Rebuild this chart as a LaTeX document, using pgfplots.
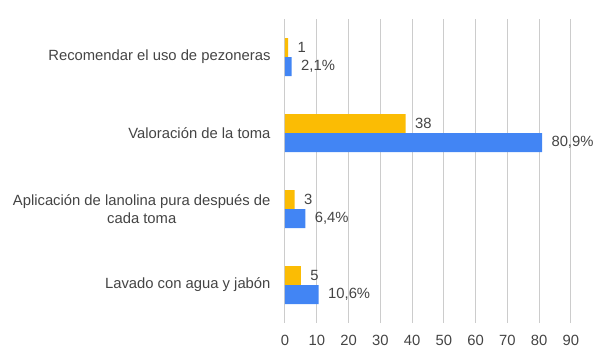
\documentclass[border=0pt]{standalone}
\usepackage{fontspec}
\setmainfont{Liberation Sans}
\usepackage{pgfplots}
\pgfplotsset{compat=1.18}
\definecolor{gyellow}{HTML}{FBBC04}
\definecolor{gblue}{HTML}{4285F4}
\definecolor{txt}{HTML}{444444}
\definecolor{grd}{HTML}{CCCCCC}
\begin{document}
\begin{tikzpicture}
\path[use as bounding box] (-285bp,-38bp) rectangle (315bp,323bp);
\begin{axis}[
  at={(0,0)}, anchor=south west,
  scale only axis, width=305bp, height=304bp,
  xbar, bar width=19bp,
  xmin=0, xmax=96, ymin=-0.5, ymax=3.5,
  y dir=reverse,
  axis line style={draw=none},
  xtick={0,10,...,90},
  ytick={0,1,2,3},
  yticklabels={Recomendar el uso de pezoneras, Valoración de la toma, {Aplicación de lanolina pura después de\\cada toma}, Lavado con agua y jabón},
  yticklabel style={align=center, font=\fontsize{14.8bp}{18bp}\selectfont, text=txt, xshift=-11bp},
  xticklabel style={font=\fontsize{14.8bp}{18bp}\selectfont, text=txt, yshift=-9bp},
  /pgf/number format/assume math mode=true,
  major tick length=0pt,
  xmajorgrids, major grid style={grd, line width=1bp},
  point meta=explicit symbolic,
  nodes near coords,
  nodes near coords style={font=\fontsize{14.8bp}{18bp}\selectfont, text=txt, anchor=west, xshift=6bp},
  clip=false,
]
\addplot[fill=gyellow, draw=none, bar shift=9.5bp] table[meta=l] {
x y l
1 0 1
38 1 38
3 2 3
5 3 5
};
\addplot[fill=gblue, draw=none, bar shift=-9.5bp] table[meta=l] {
x y l
2.1 0 {2,1\%}
80.9 1 {80,9\%}
6.4 2 {6,4\%}
10.6 3 {10,6\%}
};
\end{axis}
\end{tikzpicture}
\end{document}
